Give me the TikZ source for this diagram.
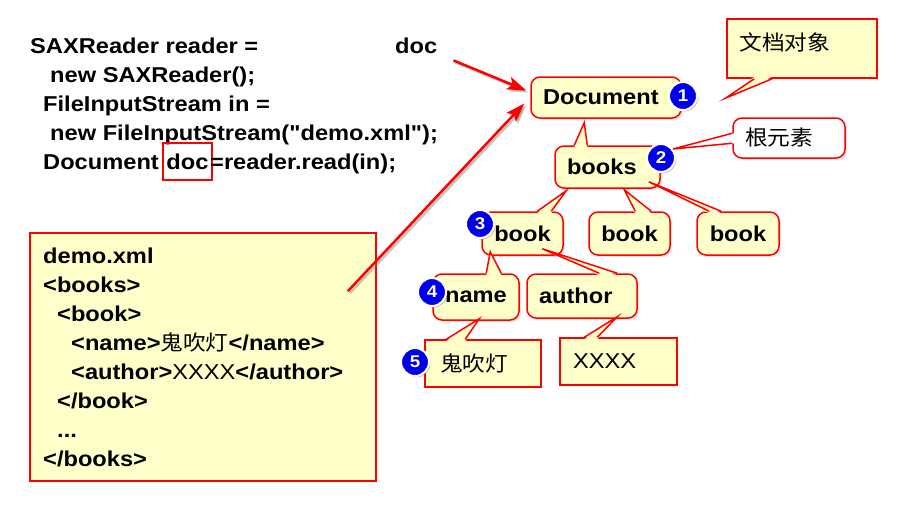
\documentclass[tikz,border=0pt]{standalone}
\usepackage{fontspec}
\setmainfont[FakeStretch=1.1,Ligatures=TeXOff]{Liberation Sans}
\newfontfamily\cjk[FakeStretch=1.08]{Noto Sans CJK SC}
\usetikzlibrary{calc,arrows.meta,shadows}
\definecolor{ly}{HTML}{FFFFC9}
\definecolor{rd}{HTML}{FF0000}
\definecolor{bb}{HTML}{0000E8}
\newcommand\callptr[5]{%
  \fill[#1] ($#2+#5$) -- ($#3$) -- ($#4+#5$) -- cycle;
  \draw[ptrline] ($#2$) -- ($#3$) -- ($#4$);}
\begin{document}
\begin{tikzpicture}[x=1pt,y=-1pt,
  mainfont/.style={font=\fontsize{21.5}{24}\selectfont\bfseries},
  cjkfont/.style={font=\cjk\fontsize{21}{24}\selectfont},
  tbox/.style={draw=rd, fill=ly, line width=1.5pt, rounded corners=9pt,
    drop shadow={opacity=0.2, shadow xshift=2pt, shadow yshift=-2pt},
    mainfont, inner sep=0pt},
  sbox/.style={draw=rd, fill=ly, line width=1.5pt, mainfont, inner sep=0pt},
  code/.style={anchor=base west, inner sep=0pt, mainfont},
  xmlt/.style={anchor=base west, inner sep=0pt, mainfont},
  badge/.style={circle, fill=bb, draw=white, line width=2pt, minimum size=28pt,
    inner sep=0pt, text=white, font=\fontsize{17}{17}\selectfont\bfseries,
    drop shadow={opacity=0.45, shadow xshift=1.5pt, shadow yshift=-1.5pt}},
  ptrline/.style={draw=rd, line width=1.5pt, line join=miter},
  arr/.style={draw=rd, line width=2.5pt, -{Stealth[length=19pt,width=13pt,inset=4pt]}},
  arrsh/.style={draw=black!50, opacity=0.45, line width=2.5pt,
    -{Stealth[length=19pt,width=13pt,inset=4pt]},
    transform canvas={shift={(2pt,-2pt)}}}
]
\useasboundingbox (0,0) rectangle (902,512);
\fill[white] (0,0) rectangle (902,512);

% code lines
\node[code] (c1) at (30,53) {SAXReader reader =};
\node[code] (wdoc) at (395,53) {doc};
\node[code] (c2) at (50,82) {new SAXReader();};
\node[code] (c3) at (43,111) {FileInputStream in =};
\node[code] (c4) at (50,140) {new FileInputStream("demo.xml");};
\node[code] (c5a) at (43,169) {Document};
\node[draw=rd, line width=2.5pt, minimum width=49pt, minimum height=37pt, inner sep=0pt, mainfont] (docbox) at (187.5,161.5) {doc};
\node[code] (c5b) at (210,169) {=reader.read(in);};

% xml box
\node[sbox, minimum width=346pt, minimum height=248pt] (xml) at (203,357) {};
\node[xmlt] (x1) at (43,263) {demo.xml};
\node[xmlt] (x2) at (43,292) {<books>};
\node[xmlt] (x3) at (57,321) {<book>};
\node[xmlt] (x4) at (71,350) {<name>{\cjk\fontsize{21}{24}\selectfont\mdseries 鬼吹灯}</name>};
\node[xmlt] (x5) at (71,379) {<author>{\mdseries XXXX}</author>};
\node[xmlt] (x6) at (57,408) {</book>};
\node[xmlt] (x7) at (57,437) {...};
\node[xmlt] (x8) at (43,466) {</books>};

% tree
\node[tbox, minimum height=41pt, text width=126pt, inner xsep=12pt, align=left] (tdoc) at (606,97.5) {Document};

\node[sbox, minimum width=150pt, minimum height=59pt] (tobj) at (802,48.5) {};
\node[cjkfont, anchor=west, inner sep=0pt] (tobjt) at ($(tobj.west)+(13,-6.5)$) {文档对象};
\callptr{ly}{(tobj.south west)+(28,0)}{(tdoc.east)+(44,0.5)}{(tobj.south west)+(46,0)}{(0,-2)}

\node[tbox, minimum height=42pt, text width=81pt, inner xsep=12pt, align=left] (tbooks) at (607.5,167) {books};
\callptr{ly}{(tbooks.north west)+(20,0)}{(tdoc.south west)+(54,4)}{(tbooks.north west)+(33,0)}{(0,2)}

\node[tbox, fill=white, minimum height=40pt, text width=88pt, inner xsep=12pt, align=left, cjkfont] (troot) at (789,138) {根元素};

\node[tbox, minimum width=81pt, minimum height=43pt] (tb1) at (522.5,233.5) {book};
\callptr{ly}{(tb1.north west)+(56,0)}{(tbooks.south west)+(12,2)}{(tb1.north west)+(70,0)}{(0,2)}
\node[tbox, minimum width=81pt, minimum height=43pt] (tb2) at (629.5,233.5) {book};
\callptr{ly}{(tb2.north west)+(47,0)}{(tbooks.south west)+(70,1)}{(tb2.north west)+(63,0)}{(0,2)}
\node[tbox, minimum width=82pt, minimum height=43pt] (tb3) at (738,233.5) {book};
\callptr{ly}{(tb3.north west)+(13,0)}{(tbooks.south east)+(-12,-7)}{(tb3.north west)+(25,0)}{(0,2)}

\node[tbox, minimum width=86pt, minimum height=46pt] (tname) at (476,297) {name};
\callptr{ly}{(tname.north west)+(54,0)}{(tb1.south west)+(9,-4)}{(tname.north west)+(69,0)}{(0,2)}
\node[tbox, minimum height=44pt, text width=86pt, inner xsep=12pt, align=left] (tauth) at (582,296) {author};
\callptr{ly}{(tauth.north west)+(73,0)}{(tb1.south west)+(61,-7)}{(tauth.north west)+(91,0)}{(0,2)}

\node[sbox, minimum height=47pt, text width=86pt, inner xsep=15pt, align=left, cjkfont] (tghost) at (483,363.5) {鬼吹灯};
\callptr{ly}{(tghost.north west)+(22,0)}{(tname.south west)+(47,-2)}{(tghost.north west)+(41,0)}{(0,2)}
\node[sbox, minimum height=47pt, text width=91pt, inner xsep=13pt, align=left, font=\fontsize{21.5}{24}\selectfont] (txxxx) at (618.5,361.5) {XXXX};
\callptr{ly}{(txxxx.north west)+(25,0)}{(tauth.south west)+(91,-2)}{(txxxx.north west)+(38,0)}{(0,2)}

% badges
\node[badge] (b1) at (683,96) {1};
\node[badge] (b2) at (661,158) {2};
\node[badge] (b3) at (480,224) {3};
\node[badge] (b4) at (432,292) {4};
\node[badge] (b5) at (415,362) {5};

\callptr{white}{(troot.north west)+(0,16)}{(b2)+(12,-9)}{(troot.north west)+(0,26)}{(2,0)}

% arrows
\coordinate (a1s) at ($(wdoc.south east)+(16,7)$);
\coordinate (a1e) at ($(tdoc.west)+(-4,-7)$);
\coordinate (a2s) at ($(xml.north east)+(-29,59)$);
\coordinate (a2e) at ($(tdoc.west)+(-6,6)$);
\draw[arrsh] (a1s) -- (a1e);
\draw[arrsh] (a2s) -- (a2e);
\draw[arr] (a1s) -- (a1e);
\draw[arr] (a2s) -- (a2e);
\end{tikzpicture}
\end{document}
